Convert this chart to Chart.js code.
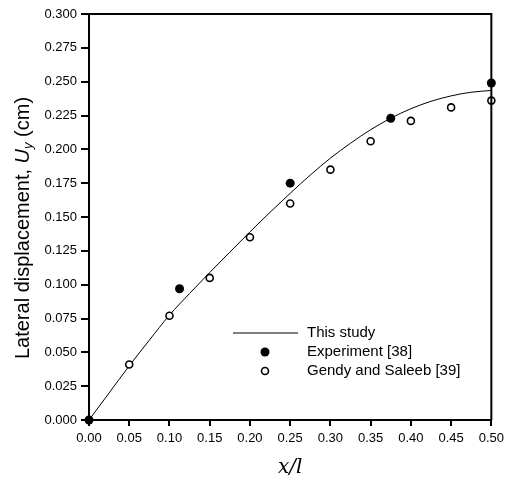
<!DOCTYPE html>
<html>
<head>
<meta charset="utf-8">
<script src="https://cdn.jsdelivr.net/npm/chart.js@4.4.1/dist/chart.umd.min.js"></script>
<style>
  html, body { margin: 0; padding: 0; background: #fff; }
  #wrap { width: 509px; height: 481px; }
</style>
</head>
<body>
<div id="wrap"><canvas id="chart" width="509" height="481"></canvas></div>
<script>
// curve "This study"
const studyX = [0, 0.025, 0.05, 0.075, 0.1, 0.125, 0.15, 0.175, 0.2, 0.225, 0.25, 0.275, 0.3, 0.325, 0.35, 0.375, 0.4, 0.425, 0.45, 0.475, 0.5];
const studyY = [0, 0.020, 0.040, 0.059, 0.0775, 0.0935, 0.109, 0.124, 0.139, 0.1535, 0.1675, 0.181, 0.1935, 0.2045, 0.2145, 0.223, 0.230, 0.2355, 0.2395, 0.2422, 0.2435];

// Experiment [38]
const expX = [0, 0.1125, 0.25, 0.375, 0.5];
const expY = [0, 0.097, 0.175, 0.223, 0.249];

// Gendy and Saleeb [39]
const gendyX = [0.05, 0.1, 0.15, 0.2, 0.25, 0.3, 0.35, 0.4, 0.45, 0.5];
const gendyY = [0.041, 0.077, 0.105, 0.135, 0.160, 0.185, 0.206, 0.221, 0.231, 0.236];

const xTicks = [0, 0.05, 0.1, 0.15, 0.2, 0.25, 0.3, 0.35, 0.4, 0.45, 0.5];
const yTicks = [0, 0.025, 0.05, 0.075, 0.1, 0.125, 0.15, 0.175, 0.2, 0.225, 0.25, 0.275, 0.3];

const legendLabels = ['This study', 'Experiment [38]', 'Gendy and Saleeb [39]'];

const toPts = (xs, ys) => xs.map((x, i) => ({ x: x, y: ys[i] }));

const sans = 'Liberation Sans, Arial, sans-serif';

// box on top/right, y title with subscript, legend inside the plot
const extras = {
    id: 'extras',
    afterDraw(chart) {
        const ctx = chart.ctx;
        const a = chart.chartArea;
        ctx.save();
        ctx.strokeStyle = '#000';
        ctx.lineWidth = 2;
        ctx.beginPath();
        ctx.moveTo(a.left - 1, a.top);
        ctx.lineTo(a.right, a.top);
        ctx.lineTo(a.right, a.bottom);
        ctx.stroke();

        // y title
        ctx.translate(23, 228);
        ctx.rotate(-Math.PI / 2);
        ctx.fillStyle = '#000';
        ctx.textBaseline = 'middle';
        const parts = [
            ['Lateral displacement, ', '20px ' + sans, 0],
            ['U', 'italic 20px ' + sans, 0],
            ['y', 'italic 13px ' + sans, 5],
            [' (cm)', '20px ' + sans, 0]
        ];
        let total = 0;
        parts.forEach(p => { ctx.font = p[1]; total += ctx.measureText(p[0]).width; });
        let cx = -total / 2;
        parts.forEach(p => {
            ctx.font = p[1];
            ctx.fillText(p[0], cx, p[2]);
            cx += ctx.measureText(p[0]).width;
        });
        ctx.restore();

        // legend
        ctx.save();
        const lx = a.left + 144, ly = a.top + 319, row = 19;
        ctx.strokeStyle = '#000';
        ctx.lineWidth = 1;
        ctx.beginPath();
        ctx.moveTo(lx, ly);
        ctx.lineTo(lx + 65, ly);
        ctx.stroke();
        ctx.fillStyle = '#000';
        ctx.beginPath();
        ctx.arc(lx + 32, ly + row, 4.5, 0, Math.PI * 2);
        ctx.fill();
        ctx.fillStyle = '#fff';
        ctx.lineWidth = 1.6;
        ctx.beginPath();
        ctx.arc(lx + 32, ly + row * 2, 3.5, 0, Math.PI * 2);
        ctx.fill();
        ctx.stroke();
        ctx.fillStyle = '#000';
        ctx.font = '15px ' + sans;
        ctx.textBaseline = 'middle';
        legendLabels.forEach((t, i) => ctx.fillText(t, lx + 74, ly + row * i));
        ctx.restore();
    }
};

new Chart(document.getElementById('chart'), {
    type: 'scatter',
    data: {
        datasets: [
            {
                label: legendLabels[0],
                data: toPts(studyX, studyY),
                showLine: true,
                borderColor: '#000',
                borderWidth: 1,
                pointRadius: 0,
                cubicInterpolationMode: 'monotone',
                order: 3
            },
            {
                label: legendLabels[1],
                data: toPts(expX, expY),
                pointRadius: 4.5,
                pointBackgroundColor: '#000',
                pointBorderWidth: 0,
                order: 1,
                clip: false
            },
            {
                label: legendLabels[2],
                data: toPts(gendyX, gendyY),
                pointRadius: 3.5,
                pointBackgroundColor: '#fff',
                pointBorderColor: '#000',
                pointBorderWidth: 1.6,
                order: 2,
                clip: false
            }
        ]
    },
    options: {
        responsive: false,
        animation: false,
        layout: { padding: { top: 14, right: 16, left: 0, bottom: 0 } },
        plugins: {
            legend: { display: false },
            tooltip: { enabled: false }
        },
        scales: {
            x: {
                type: 'linear',
                min: 0,
                max: 0.5,
                afterBuildTicks: s => { s.ticks = xTicks.map(v => ({ value: v })); },
                afterFit: s => { s.height = 61; },
                ticks: {
                    color: '#000',
                    font: { family: sans, size: 13 },
                    padding: 5,
                    maxRotation: 0,
                    callback: v => v.toFixed(2)
                },
                grid: { drawOnChartArea: false, color: '#000', lineWidth: 2, tickLength: 6 },
                border: { color: '#000', width: 2 },
                title: {
                    display: true,
                    text: 'x/l',
                    color: '#000',
                    font: { family: 'DejaVu Serif', style: 'italic', size: 20 },
                    padding: { top: 0, bottom: 1 }
                }
            },
            y: {
                type: 'linear',
                min: 0,
                max: 0.3,
                afterBuildTicks: s => { s.ticks = yTicks.map(v => ({ value: v })); },
                afterFit: s => { s.width = 89; },
                ticks: {
                    color: '#000',
                    font: { family: sans, size: 13 },
                    padding: 4,
                    callback: v => v.toFixed(3)
                },
                grid: { drawOnChartArea: false, color: '#000', lineWidth: 2, tickLength: 8 },
                border: { color: '#000', width: 2 }
            }
        }
    },
    plugins: [extras]
});
</script>
</body>
</html>
